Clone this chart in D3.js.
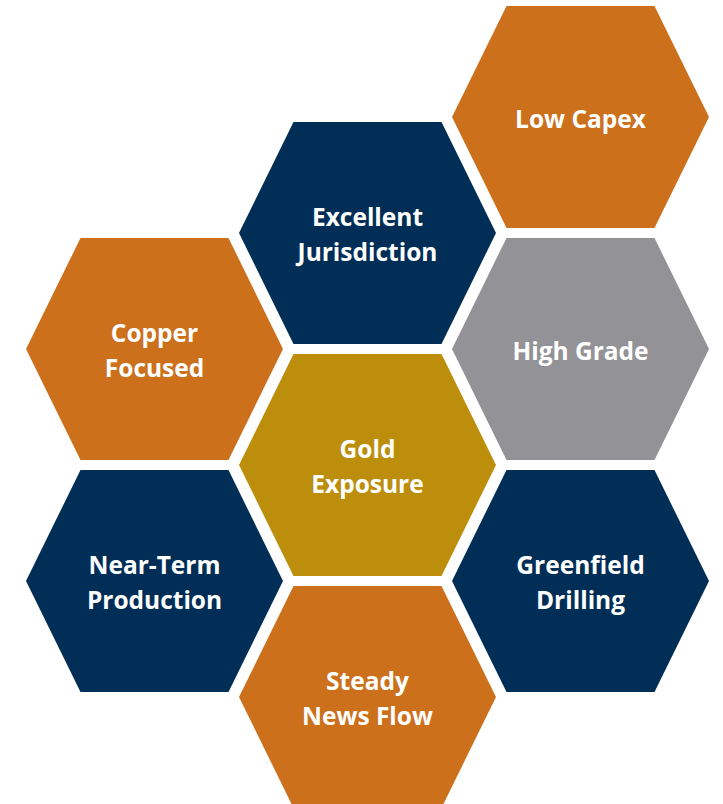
<!DOCTYPE html>
<html>
<head>
<meta charset="utf-8">
<script src="https://cdn.jsdelivr.net/npm/d3@7"></script>
<style>
  html, body { margin: 0; padding: 0; background: #ffffff; }
  svg { display: block; }
</style>
</head>
<body>
<svg id="chart" width="723" height="804"></svg>
<script>
// Data
const labels = [
  ["Low Capex"],
  ["Excellent", "Jurisdiction"],
  ["Copper", "Focused"],
  ["High Grade"],
  ["Gold", "Exposure"],
  ["Near-Term", "Production"],
  ["Greenfield", "Drilling"],
  ["Steady", "News Flow"]
];
const columns = [2, 1, 0, 2, 1, 0, 2, 1];
const rows    = [0, 1, 2, 2, 3, 4, 4, 5];
const colorKeys = ["orange", "navy", "orange", "gray", "gold", "navy", "navy", "orange"];

const palette = { orange: "#CD701C", navy: "#002E56", gray: "#939296", gold: "#BC8E0C" };

const svg = d3.select("#chart");
const x = d3.scaleLinear().domain([0, 2]).range([154.5, 580.5]);
const y = d3.scaleLinear().domain([0, 5]).range([117, 697]);
const color = d3.scaleOrdinal().domain(Object.keys(palette)).range(Object.values(palette));

// hexagon shape (flat top)
const hw = 128.5, hh = 111, ew = 74;
const hexPts = [[-hw, 0], [-ew, -hh], [ew, -hh], [hw, 0], [ew, hh], [-ew, hh]];
const line = d3.line().curve(d3.curveLinearClosed);

const cells = labels.map((l, i) => ({ lines: l, c: columns[i], r: rows[i], k: colorKeys[i] }));

const g = svg.selectAll("g.hex").data(cells).join("g")
  .attr("class", "hex")
  .attr("transform", d => `translate(${x(d.c)},${y(d.r)})`);

g.append("path")
  .attr("d", line(hexPts))
  .attr("fill", d => color(d.k));

const lh = 35.5;
g.append("text")
  .attr("text-anchor", "middle")
  .attr("fill", "#ffffff")
  .attr("font-family", "'Open Sans', sans-serif")
  .attr("font-weight", 700)
  .attr("font-size", 24.5)
  .each(function(d) {
    const n = d.lines.length;
    const t = d3.select(this);
    d.lines.forEach((s, j) => {
      t.append("tspan")
        .attr("x", 0)
        .attr("y", (j - (n - 1) / 2) * lh + 10.5)
        .text(s);
    });
  });
</script>
</body>
</html>
